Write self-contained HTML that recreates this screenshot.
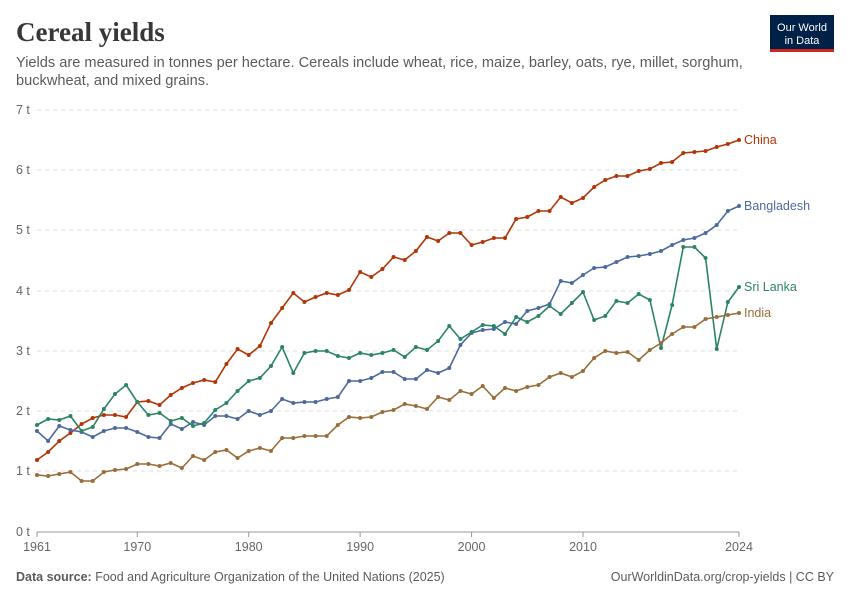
<!DOCTYPE html>
<html><head><meta charset="utf-8"><style>
body{margin:0;background:#fff;font-family:"Liberation Sans",sans-serif}
</style></head><body>
<svg id="s" width="850" height="600" xmlns="http://www.w3.org/2000/svg" font-family="Liberation Sans, sans-serif">
<text x="16" y="41" font-family="Liberation Serif, serif" font-size="27" font-weight="bold" fill="#373737">Cereal yields</text>
<text x="16" y="67" font-size="14.6" fill="#5b5b5b">Yields are measured in tonnes per hectare. Cereals include wheat, rice, maize, barley, oats, rye, millet, sorghum,</text>
<text x="16" y="85" font-size="14.6" fill="#5b5b5b">buckwheat, and mixed grains.</text>
<rect x="770" y="15" width="64" height="36" fill="#002147"/>
<rect x="770" y="49" width="64" height="3" fill="#ce261e"/>
<text x="802" y="31" font-size="11" fill="#fff" text-anchor="middle">Our World</text>
<text x="802" y="44" font-size="11" fill="#fff" text-anchor="middle">in Data</text>
<g id="grid" font-size="12.5" fill="#666"></g>
<g id="lines"></g>
<text x="16" y="581" font-size="12.5" fill="#5b5b5b"><tspan font-weight="bold">Data source:</tspan> Food and Agriculture Organization of the United Nations (2025)</text>
<text x="834" y="581" font-size="12.5" fill="#5b5b5b" text-anchor="end">OurWorldinData.org/crop-yields | CC BY</text>
</svg>
<script>
const NS="http://www.w3.org/2000/svg",g=document.getElementById('grid'),L=document.getElementById('lines');
function el(t,a,p,txt){const e=document.createElementNS(NS,t);for(const k in a)e.setAttribute(k,a[k]);if(txt)e.textContent=txt;p.appendChild(e);return e;}
const ys=[532,471,411,351,291,230,170,110];
ys.forEach((y,i)=>{if(i>0)el('line',{x1:37,x2:739,y1:y,y2:y,stroke:'#ddd','stroke-dasharray':'4,4'},g);el('text',{x:16,y:y+4},g,i+' t');});
el('line',{x1:37,x2:739,y1:532,y2:532,stroke:'#999'},g);
const X=yr=>37+(yr-1961)*702/63;
[1961,1970,1980,1990,2000,2010,2024].forEach(yr=>{el('line',{x1:X(yr),x2:X(yr),y1:532,y2:537,stroke:'#999'},g);el('text',{x:X(yr),y:551,'text-anchor':'middle'},g,''+yr);});
const D={
China:['#b13507',[460,452,441,433,424,418,415,415,417,402,401,405,395,388,383,380,382,364,349,355,346,323,308,293,302,297,293,295,290,272,277,269,257,260,251,237,241,233,233,245,242,238,238,219,217,211,211,197,203,198,187,180,176,176,171,169,163,162,153,152,151,147,144,140],140],
Bangladesh:['#4c6a9c',[431,441,426,430,432,437,431,428,428,432,437,438,424,429,422,425,416,416,419,411,415,411,399,403,402,402,399,397,381,381,378,372,372,379,379,370,373,368,345,333,330,329,322,324,311,308,304,281,283,275,268,267,262,257,256,254,251,245,240,238,233,225,211,206],206],
'Sri Lanka':['#2c8465',[425,419,420,416,431,427,409,394,385,402,415,413,421,418,426,423,410,403,391,381,378,366,347,373,353,351,351,356,358,353,355,353,350,357,347,350,341,326,339,332,325,326,334,317,322,316,306,314,303,292,320,316,301,303,294,300,348,305,247,247,258,349,302,287],287],
India:['#996d39',[475,476,474,472,481,481,472,470,469,464,464,466,463,468,456,460,452,450,458,451,448,451,438,438,436,436,436,425,417,418,417,412,410,404,406,409,397,400,391,394,386,398,388,391,387,385,377,373,377,371,358,351,353,352,360,350,343,334,327,327,319,317,315,313],313]};
for(const k in D){const [c,v,ly]=D[k];const pts=v.map((y,i)=>X(1961+i).toFixed(1)+','+y).join(' ');
el('polyline',{points:pts,fill:'none',stroke:c,'stroke-width':1.6},L);
v.forEach((y,i)=>el('circle',{cx:X(1961+i),cy:y,r:2,fill:c},L));
el('text',{x:744,y:ly+4,fill:c,'font-size':12.5},L,k);}
</script>
</body></html>
